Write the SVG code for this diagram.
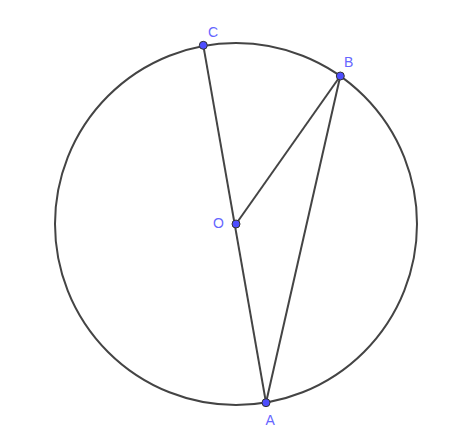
<svg xmlns="http://www.w3.org/2000/svg" width="474" height="442" viewBox="0 0 474 442">
<style>
.ln{stroke:#444;stroke-width:2;fill:none}
.pt{fill:#4d4dff;stroke:#333;stroke-width:1}
.lb{font-family:"Liberation Sans",Arial,sans-serif;font-size:14px;fill:#6666ff}
</style>
<rect width="474" height="442" fill="#fff"/>
<g id="connectors">
<circle class="ln" cx="236" cy="224" r="181"/>
<line class="ln" x1="203.3" y1="45.3" x2="266" y2="402.7"/>
<line class="ln" x1="236" y1="224" x2="340.3" y2="76"/>
<line class="ln" x1="340.3" y1="76" x2="266" y2="402.7"/>
</g>
<g id="C"><circle class="pt" cx="203.3" cy="45.3" r="4"/><text class="lb" x="208" y="36.5">C</text></g>
<g id="B"><circle class="pt" cx="340.3" cy="76" r="4"/><text class="lb" x="344" y="67">B</text></g>
<g id="O"><circle class="pt" cx="236" cy="224" r="4"/><text class="lb" x="213" y="227.5">O</text></g>
<g id="A"><circle class="pt" cx="266" cy="402.7" r="4"/><text class="lb" x="265.5" y="424.5">A</text></g>
</svg>
